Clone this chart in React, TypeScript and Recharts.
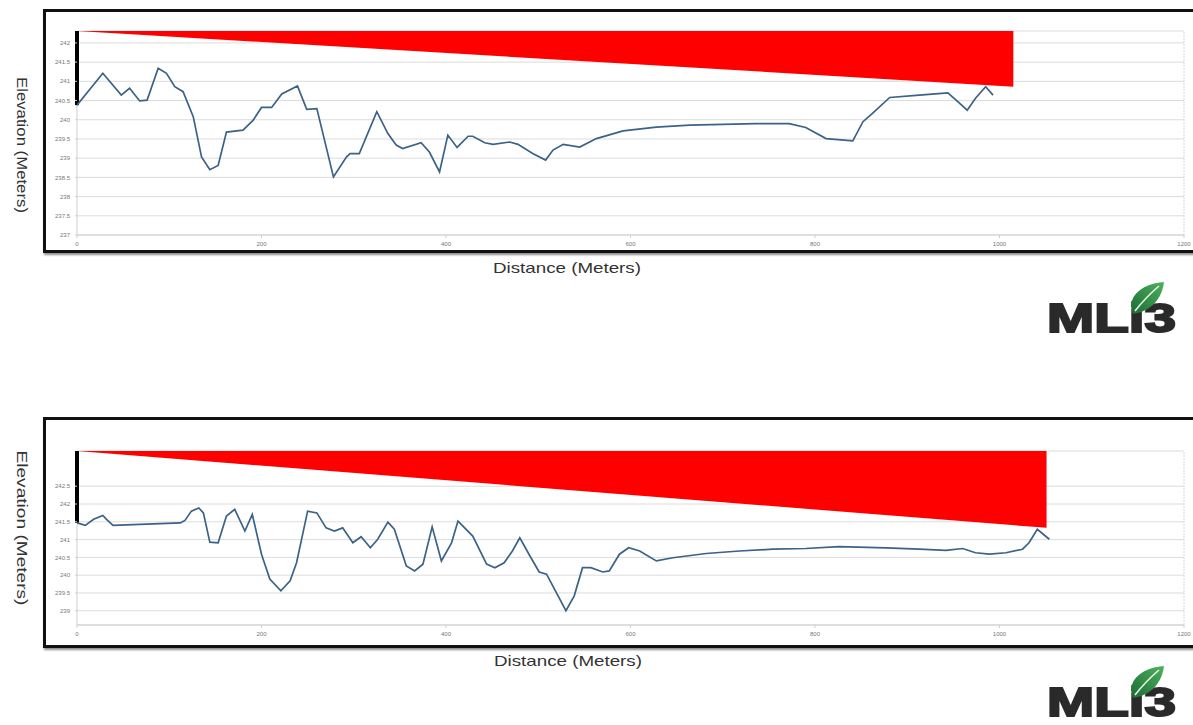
import React from 'react';
import { ComposedChart, Line, Area, XAxis, YAxis, CartesianGrid, ReferenceLine } from 'recharts';

// ---- shared axis ticks ----
const distTicks = [0, 200, 400, 600, 800, 1000, 1200];
const elevTicksTop = [237, 237.5, 238, 238.5, 239, 239.5, 240, 240.5, 241, 241.5, 242];
const elevTicksBottom = [239, 239.5, 240, 240.5, 241, 241.5, 242, 242.5];

// ---- top profile ----
const distTop = [0, 28, 48, 57, 68, 76, 88, 97, 106, 115, 126, 135, 144, 153, 162, 180, 191, 200, 211, 222, 239, 249, 260, 278, 292, 296, 306, 325, 337, 346, 353, 373, 382, 393, 402, 412, 424, 429, 442, 451, 469, 478, 494, 508, 516, 527, 545, 563, 592, 628, 664, 700, 736, 772, 790, 812, 841, 852, 862, 881, 913, 944, 953, 965, 974, 985, 993];
const elevTop = [240.38, 241.21, 240.64, 240.82, 240.49, 240.51, 241.34, 241.21, 240.86, 240.73, 240.08, 239.03, 238.70, 238.81, 239.68, 239.73, 239.99, 240.32, 240.32, 240.67, 240.88, 240.27, 240.29, 238.51, 239.03, 239.12, 239.12, 240.21, 239.64, 239.34, 239.25, 239.40, 239.16, 238.64, 239.60, 239.28, 239.57, 239.57, 239.40, 239.36, 239.42, 239.36, 239.12, 238.95, 239.21, 239.36, 239.29, 239.51, 239.71, 239.81, 239.86, 239.88, 239.90, 239.90, 239.80, 239.51, 239.45, 239.95, 240.16, 240.58, 240.64, 240.70, 240.51, 240.25, 240.56, 240.86, 240.64];
const sightTop = { end: 1015, top: 242.31, endLow: 240.86 };
const domainTop: [number, number] = [237, 242.31];

// ---- bottom profile ----
const distBottom = [0, 9, 18, 28, 32, 39, 112, 117, 124, 132, 137, 144, 153, 162, 171, 182, 190, 200, 209, 221, 231, 238, 250, 260, 270, 279, 288, 299, 308, 318, 326, 337, 344, 357, 366, 375, 385, 395, 406, 413, 429, 444, 453, 463, 472, 480, 491, 501, 509, 530, 539, 548, 557, 570, 577, 588, 598, 610, 628, 646, 682, 718, 754, 790, 826, 877, 913, 942, 960, 974, 989, 1007, 1025, 1032, 1041, 1054];
const elevBottom = [241.47, 241.40, 241.57, 241.68, 241.57, 241.40, 241.47, 241.54, 241.80, 241.89, 241.75, 240.93, 240.91, 241.66, 241.85, 241.24, 241.71, 240.59, 239.89, 239.56, 239.84, 240.35, 241.80, 241.75, 241.33, 241.24, 241.33, 240.91, 241.08, 240.77, 241.01, 241.49, 241.29, 240.26, 240.12, 240.31, 241.36, 240.40, 240.91, 241.52, 241.10, 240.31, 240.21, 240.35, 240.68, 241.05, 240.54, 240.09, 240.03, 239.00, 239.42, 240.21, 240.21, 240.09, 240.12, 240.59, 240.77, 240.68, 240.40, 240.49, 240.61, 240.68, 240.73, 240.75, 240.80, 240.77, 240.73, 240.70, 240.75, 240.63, 240.59, 240.63, 240.73, 240.91, 241.29, 241.01];
const sightBottom = { end: 1051, top: 243.49, endLow: 241.33 };
const domainBottom: [number, number] = [238.6, 243.49];

const FONT = '"Liberation Sans", Arial, sans-serif';
const tickStyle = { fontSize: 6, fill: '#777', fontFamily: FONT };

type ProfileProps = {
  dist: number[];
  elev: number[];
  sight: { end: number; top: number; endLow: number };
  domain: [number, number];
  yTicks: number[];
  height: number;
  margin: { top: number; right: number; bottom: number; left: number };
};

function Profile({ dist, elev, sight, domain, yTicks, height, margin }: ProfileProps) {
  const lineData = dist.map((d, i) => ({ d, e: elev[i] }));
  const triData = [
    { d: 0, band: [sight.top, sight.top] },
    { d: sight.end, band: [sight.endLow, sight.top] },
  ];
  return (
    <ComposedChart width={1193} height={height} data={lineData} margin={margin}>
      <CartesianGrid horizontal vertical={false} stroke="#dcdcdc" strokeWidth={1} />
      <XAxis
        dataKey="d"
        type="number"
        domain={[0, 1200]}
        ticks={distTicks}
        height={20}
        tick={tickStyle}
        tickSize={3}
        tickMargin={4}
        stroke="#cfcfcf"
        interval={0}
        allowDataOverflow
      />
      <YAxis
        type="number"
        domain={domain}
        ticks={yTicks}
        width={77}
        tick={tickStyle}
        tickSize={2}
        tickMargin={5}
        stroke="#cfcfcf"
        axisLine={false}
        interval={0}
        allowDataOverflow
      />
      <ReferenceLine x={0} stroke="#cfcfcf" />
      <ReferenceLine x={1200} stroke="#d6d6d6" strokeDasharray="2 1" />
      <Area
        data={triData}
        dataKey="band"
        type="linear"
        stroke="none"
        fill="#ff0000"
        fillOpacity={1}
        isAnimationActive={false}
        dot={false}
        activeDot={false}
      />
      <ReferenceLine
        segment={[{ x: 0, y: sight.top }, { x: 0, y: elev[0] }]}
        stroke="#000"
        strokeWidth={4}
        ifOverflow="visible"
      />
      <Line
        dataKey="e"
        type="linear"
        stroke="#3b6287"
        strokeWidth={1.7}
        dot={false}
        activeDot={false}
        isAnimationActive={false}
      />
    </ComposedChart>
  );
}

function Logo({ y }: { y: number }) {
  return (
    <g>
      <defs>
        <linearGradient id={`leaf${y}`} x1="0" y1="1" x2="1" y2="0">
          <stop offset="0" stopColor="#1d6b33" />
          <stop offset="1" stopColor="#4db360" />
        </linearGradient>
      </defs>
      <text
        x={1047}
        y={y + 332}
        fontFamily={FONT}
        fontWeight={900}
        fontSize={41}
        fill="#2a2a2a"
        stroke="#2a2a2a"
        strokeWidth={2}
        textLength={129}
        lengthAdjust="spacingAndGlyphs"
      >
        MLi3
      </text>
      <path
        d={`M 1133 ${y + 314} C 1126 ${y + 298}, 1140 ${y + 284}, 1164 ${y + 282} C 1162 ${y + 298}, 1152 ${y + 311}, 1133 ${y + 314} Z`}
        fill={`url(#leaf${y})`}
      />
      <path
        d={`M 1135 ${y + 311} Q 1146 ${y + 297} 1159 ${y + 286}`}
        stroke="#e9f5ea"
        strokeWidth={1.6}
        fill="none"
      />
    </g>
  );
}

export default function App() {
  return (
    <div
      style={{
        position: 'absolute',
        left: 0,
        top: 0,
        width: 1193,
        height: 725,
        overflow: 'hidden',
        background: '#fff',
        fontFamily: FONT,
      }}
    >
      {/* frames */}
      <div
        style={{
          position: 'absolute',
          left: 43,
          top: 9,
          width: 1170,
          height: 244,
          border: '3px solid #111',
          boxSizing: 'border-box',
          boxShadow: '1px 2px 2px rgba(0,0,0,0.45)',
        }}
      />
      <div
        style={{
          position: 'absolute',
          left: 43,
          top: 417,
          width: 1170,
          height: 231,
          border: '3px solid #111',
          boxSizing: 'border-box',
          boxShadow: '1px 2px 2px rgba(0,0,0,0.45)',
        }}
      />
      <div style={{ position: 'absolute', left: 0, top: 0 }}>
        <Profile
          dist={distTop}
          elev={elevTop}
          sight={sightTop}
          domain={domainTop}
          yTicks={elevTicksTop}
          height={260}
          margin={{ top: 31, right: 9, bottom: 5, left: 0 }}
        />
      </div>
      <div style={{ position: 'absolute', left: 0, top: 418 }}>
        <Profile
          dist={distBottom}
          elev={elevBottom}
          sight={sightBottom}
          domain={domainBottom}
          yTicks={elevTicksBottom}
          height={240}
          margin={{ top: 33, right: 9, bottom: 13, left: 0 }}
        />
      </div>
      <svg
        width={1193}
        height={725}
        style={{ position: 'absolute', left: 0, top: 0, pointerEvents: 'none' }}
      >
        <text
          x={22}
          y={145}
          transform="rotate(90 22 145)"
          textAnchor="middle"
          dominantBaseline="central"
          fontFamily={FONT}
          fontSize={15}
          fill="#333"
          textLength={136}
          lengthAdjust="spacingAndGlyphs"
        >
          Elevation (Meters)
        </text>
        <text
          x={22}
          y={528}
          transform="rotate(90 22 528)"
          textAnchor="middle"
          dominantBaseline="central"
          fontFamily={FONT}
          fontSize={15}
          fill="#333"
          textLength={155}
          lengthAdjust="spacingAndGlyphs"
        >
          Elevation (Meters)
        </text>
        <text
          x={567}
          y={268}
          textAnchor="middle"
          dominantBaseline="central"
          fontFamily={FONT}
          fontSize={14.5}
          fill="#333"
          textLength={148}
          lengthAdjust="spacingAndGlyphs"
        >
          Distance (Meters)
        </text>
        <text
          x={568}
          y={661}
          textAnchor="middle"
          dominantBaseline="central"
          fontFamily={FONT}
          fontSize={14.5}
          fill="#333"
          textLength={148}
          lengthAdjust="spacingAndGlyphs"
        >
          Distance (Meters)
        </text>
        <Logo y={0} />
        <Logo y={384} />
      </svg>
    </div>
  );
}
